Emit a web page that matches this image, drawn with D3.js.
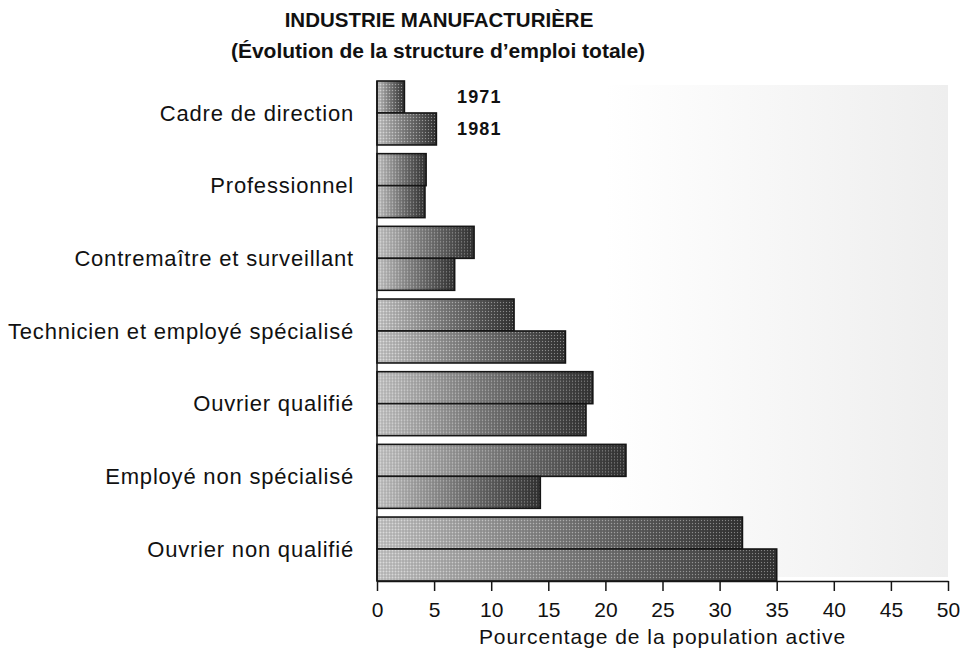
<!DOCTYPE html>
<html lang="fr">
    <head>
        <meta charset="utf-8">
        <title>Industrie manufacturière</title>
        <script type="text/javascript" src="https://d3js.org/d3.v7.min.js"></script>
        <style>
            body { margin: 0; background: #ffffff; }
            text { font-family: "Liberation Sans", Arial, sans-serif; fill: #111111; }
        </style>
    </head>
    <body>
        <script>
        // data (% of active population)
        const categories = [
            "Cadre de direction",
            "Professionnel",
            "Contremaître et surveillant",
            "Technicien et employé spécialisé",
            "Ouvrier qualifié",
            "Employé non spécialisé",
            "Ouvrier non qualifié"
        ];
        const years = ["1971", "1981"];
        const values1971 = [2.4, 4.3, 8.5, 12.0, 18.9, 21.8, 32.0];
        const values1981 = [5.2, 4.2, 6.8, 16.5, 18.3, 14.3, 35.0];
        const tickValues = [0, 5, 10, 15, 20, 25, 30, 35, 40, 45, 50];

        const W = 965, H = 650;
        const margin = {top: 81, right: 17, bottom: 69, left: 377};
        const width = W - margin.left - margin.right,
              height = H - margin.top - margin.bottom;

        const svg = d3.select("body")
            .append("svg")
                .attr("width", W)
                .attr("height", H)
                .style("background-color", "#FFFFFF");

        const defs = svg.append("defs");

        // bar shading, light on the left, dark on the right
        const grad = defs.append("linearGradient")
            .attr("id", "barGrad")
            .attr("x1", "0%").attr("x2", "100%")
            .attr("y1", "0%").attr("y2", "0%");
        grad.append("stop").attr("offset", "0%").attr("stop-color", "#c6c6c6");
        grad.append("stop").attr("offset", "50%").attr("stop-color", "#7a7a7a");
        grad.append("stop").attr("offset", "100%").attr("stop-color", "#333333");

        // faint screen / dither on top of the bars
        const dots = defs.append("pattern")
            .attr("id", "dots")
            .attr("width", 3).attr("height", 3)
            .attr("patternUnits", "userSpaceOnUse");
        dots.append("rect").attr("width", 1).attr("height", 1).attr("fill", "#ffffff").attr("opacity", 0.4);
        dots.append("rect").attr("x", 1.5).attr("y", 1.5).attr("width", 1).attr("height", 1).attr("fill", "#000000").attr("opacity", 0.3);

        // speckled backdrop that darkens toward the right
        const bgGrad = defs.append("linearGradient")
            .attr("id", "bgGrad")
            .attr("x1", "0%").attr("x2", "100%")
            .attr("y1", "0%").attr("y2", "0%");
        bgGrad.append("stop").attr("offset", "0%").attr("stop-color", "#ffffff");
        bgGrad.append("stop").attr("offset", "100%").attr("stop-color", "#ebebeb");

        const g = svg.append("g")
            .attr("transform", `translate(${margin.left}, ${margin.top})`);

        const x = d3.scaleLinear()
            .domain([0, 50])
            .range([0, width]);

        const y = d3.scaleBand()
            .domain(categories)
            .range([0, height])
            .paddingInner(0.12)
            .paddingOuter(0);

        const yInner = d3.scaleBand()
            .domain(years)
            .range([0, y.bandwidth()]);

        // backdrop
        g.append("rect")
            .attr("x", x(20))
            .attr("y", 4)
            .attr("width", x(50) - x(20))
            .attr("height", height - 8)
            .attr("fill", "url(#bgGrad)")
            .attr("opacity", 0.85);

        const rows = categories.map((c, i) => ({
            cat: c,
            vals: [
                {year: years[0], v: values1971[i]},
                {year: years[1], v: values1981[i]}
            ]
        }));

        const groups = g.selectAll("g.row")
            .data(rows)
            .join("g")
                .attr("class", "row")
                .attr("transform", d => `translate(0, ${y(d.cat)})`);

        groups.selectAll("rect.bar")
            .data(d => d.vals)
            .join("rect")
                .attr("class", "bar")
                .attr("x", x(0))
                .attr("y", d => yInner(d.year))
                .attr("width", d => x(d.v) - x(0))
                .attr("height", yInner.bandwidth())
                .attr("fill", "url(#barGrad)")
                .attr("stroke", "#151515")
                .attr("stroke-width", 1.6);

        groups.selectAll("rect.screen")
            .data(d => d.vals)
            .join("rect")
                .attr("class", "screen")
                .attr("x", x(0) + 1)
                .attr("y", d => yInner(d.year) + 1)
                .attr("width", d => x(d.v) - x(0) - 2)
                .attr("height", yInner.bandwidth() - 2)
                .attr("fill", "url(#dots)");

        // category labels
        groups.append("text")
            .attr("x", -23)
            .attr("y", y.bandwidth() / 2)
            .attr("dy", "0.35em")
            .attr("text-anchor", "end")
            .style("font-size", "22px")
            .style("letter-spacing", "0.8px")
            .text(d => d.cat);

        // y axis line
        g.append("line")
            .attr("x1", x(0)).attr("x2", x(0))
            .attr("y1", 0).attr("y2", height)
            .attr("stroke", "#151515")
            .attr("stroke-width", 1.5);

        // x axis
        const xAxis = d3.axisBottom(x)
            .tickValues(tickValues)
            .tickSize(10)
            .tickSizeOuter(0)
            .tickPadding(11);
        const ax = g.append("g")
            .attr("transform", `translate(0, ${height})`)
            .call(xAxis);
        ax.select(".domain").attr("stroke", "#151515").attr("stroke-width", 1.5);
        ax.selectAll(".tick line").attr("stroke", "#151515").attr("stroke-width", 1.5);
        ax.selectAll(".tick text")
            .attr("fill", "#111111")
            .style("font-family", "'Liberation Sans', Arial, sans-serif")
            .style("font-size", "21px");

        g.append("text")
            .attr("x", x(25))
            .attr("y", height + 63)
            .attr("text-anchor", "middle")
            .style("font-size", "21px")
            .style("letter-spacing", "0.95px")
            .text("Pourcentage de la population active");

        // legend (years next to the first pair of bars)
        g.selectAll("text.year")
            .data(years)
            .join("text")
                .attr("class", "year")
                .attr("x", x(7))
                .attr("y", d => y(categories[0]) + yInner(d) + yInner.bandwidth() / 2)
                .attr("dy", "0.35em")
                .style("font-size", "18px")
                .style("font-weight", 700)
                .style("letter-spacing", "1.2px")
                .text(d => d);

        // title
        svg.append("text")
            .attr("x", 439)
            .attr("y", 27)
            .attr("text-anchor", "middle")
            .style("font-size", "20.5px")
            .style("font-weight", 700)
            .text("INDUSTRIE MANUFACTURIÈRE");

        svg.append("text")
            .attr("x", 438)
            .attr("y", 58)
            .attr("text-anchor", "middle")
            .style("font-size", "21px")
            .style("font-weight", 700)
            .text("(Évolution de la structure d’emploi totale)");
        </script>
    </body>
</html>
